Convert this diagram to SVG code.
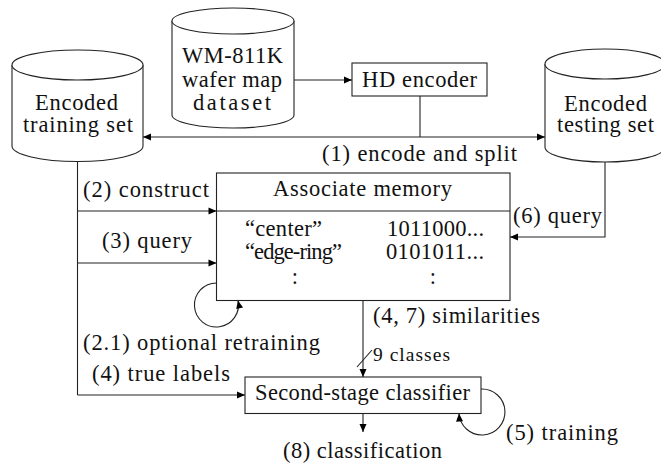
<svg xmlns="http://www.w3.org/2000/svg" width="661" height="465" viewBox="0 0 661 465">
  <defs>
    <marker id="arrow" markerUnits="userSpaceOnUse" markerWidth="9" markerHeight="8" refX="8" refY="3.5" orient="auto" overflow="visible">
      <path d="M0,0 L8,3.5 L0,7 z" fill="#000"/>
    </marker>
    <style>
      text { font-family: "Liberation Serif", "Times New Roman", serif; font-size: 22.5px; fill: #111; }
      .small { font-size: 19.5px; }
      .shape { fill: #fff; stroke: #222; stroke-width: 1.1; }
      .wire { fill: none; stroke: #222; stroke-width: 1.1; }
      .arr { marker-end: url(#arrow); }
    </style>
  </defs>
  <rect width="661" height="465" fill="#fff"/>

  <!-- data stores -->
  <g id="wm811k">
    <path class="shape" d="M172,21 V115 A61,13 0 0 0 294,115 V21"/>
    <ellipse class="shape" cx="233" cy="21" rx="61" ry="13"/>
    <text x="182" y="63" textLength="101" lengthAdjust="spacing">WM-811K</text>
    <text x="182" y="87" textLength="100" lengthAdjust="spacing">wafer map</text>
    <text x="193" y="110" textLength="78" lengthAdjust="spacing">dataset</text>
  </g>

  <g id="training-set">
    <path class="shape" d="M12,65 V146 A65.5,15.5 0 0 0 143,146 V65"/>
    <ellipse class="shape" cx="77.5" cy="65" rx="65.5" ry="15"/>
    <text x="35" y="110" textLength="83" lengthAdjust="spacing">Encoded</text>
    <text x="23" y="132" textLength="110" lengthAdjust="spacing">training set</text>
  </g>

  <g id="testing-set">
    <path class="shape" d="M545,64 V147 A60,15 0 0 0 665,147 V64"/>
    <ellipse class="shape" cx="605" cy="64" rx="60" ry="15"/>
    <text x="564" y="111" textLength="83" lengthAdjust="spacing">Encoded</text>
    <text x="557" y="132" textLength="97" lengthAdjust="spacing">testing set</text>
  </g>

  <!-- processing blocks -->
  <g id="hd-encoder">
    <rect class="shape" x="352" y="63" width="135" height="33"/>
    <text x="362" y="87" textLength="115" lengthAdjust="spacing">HD encoder</text>
  </g>

  <g id="associate-memory">
    <rect class="shape" x="216.5" y="173" width="293.5" height="127.5"/>
    <line class="wire" x1="216.5" y1="211" x2="510" y2="211"/>
    <text x="273" y="196" textLength="179" lengthAdjust="spacing">Associate memory</text>
    <text x="245" y="236" textLength="77" lengthAdjust="spacing">“center”</text>
    <text x="245" y="259" textLength="97" lengthAdjust="spacing">“edge-ring”</text>
    <text x="387" y="236" textLength="97" lengthAdjust="spacing">1011000...</text>
    <text x="386" y="259" textLength="98" lengthAdjust="spacing">0101011...</text>
    <text x="295" y="284" text-anchor="middle">:</text>
    <text x="433" y="284" text-anchor="middle">:</text>
  </g>

  <g id="classifier">
    <rect class="shape" x="245" y="377" width="236" height="36.5"/>
    <text x="255" y="400" textLength="215" lengthAdjust="spacing">Second-stage classifier</text>
  </g>

  <!-- connectors -->
  <g id="connectors">
    <path class="wire arr" d="M294,80 H352"/>
    <path class="wire" d="M420,96 V137"/>
    <path class="wire arr" d="M420,137 H545"/>
    <path class="wire arr" d="M420,137 H143"/>
    <path class="wire" d="M77.5,162 V395"/>
    <path class="wire arr" d="M77.5,211 H216.5"/>
    <path class="wire arr" d="M77.5,263 H216.5"/>
    <path class="wire arr" d="M77.5,395 H245"/>
    <path class="wire arr" d="M605,162 V237 H510"/>
    <path class="wire arr" d="M216.5,283 A22,22 0 1 0 238,300.5"/>
    <path class="wire arr" d="M363,300.5 V377"/>
    <path class="wire" d="M357,367 L372,350"/>
    <path class="wire arr" d="M363,413.5 V432"/>
    <path class="wire arr" d="M481,389 A23,23 0 1 1 459,413.5"/>
  </g>

  <!-- connector labels -->
  <g id="labels">
    <text x="322" y="161" textLength="195" lengthAdjust="spacing">(1) encode and split</text>
    <text x="83" y="197" textLength="126" lengthAdjust="spacing">(2) construct</text>
    <text x="102" y="248" textLength="90" lengthAdjust="spacing">(3) query</text>
    <text x="513" y="223" textLength="89" lengthAdjust="spacing">(6) query</text>
    <text x="83" y="350" textLength="237" lengthAdjust="spacing">(2.1) optional retraining</text>
    <text x="92" y="381" textLength="138" lengthAdjust="spacing">(4) true labels</text>
    <text x="373" y="323" textLength="167" lengthAdjust="spacing">(4, 7) similarities</text>
    <text class="small" x="373" y="361" textLength="77" lengthAdjust="spacing">9 classes</text>
    <text x="283" y="458" textLength="159" lengthAdjust="spacing">(8) classification</text>
    <text x="506" y="440" textLength="112" lengthAdjust="spacing">(5) training</text>
  </g>
</svg>
